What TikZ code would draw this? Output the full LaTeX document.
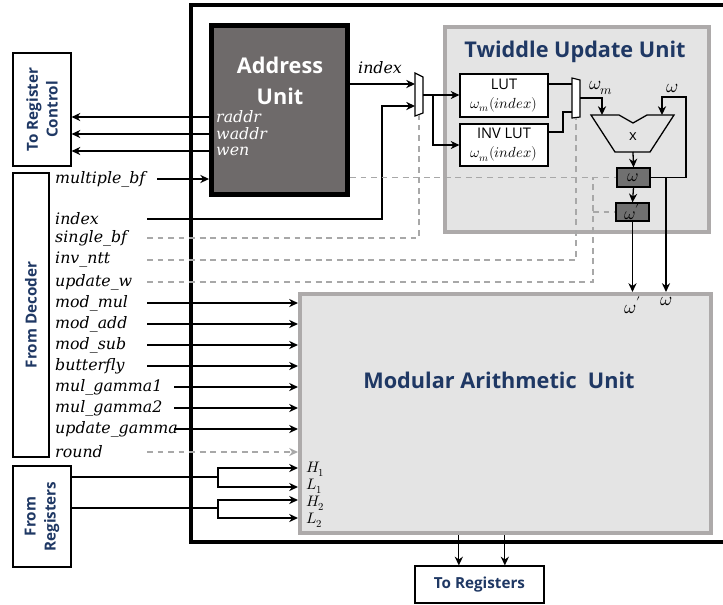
\documentclass[tikz,border=0pt]{standalone}
\usepackage{amsmath}
\usepackage{fontspec}
\usepackage{unicode-math}
\setmathfont{Latin Modern Math}
\newfontfamily\headfont{Open Sans}
\newfontfamily\sigfont{DejaVu Serif}
\usepackage{tikz}
\usetikzlibrary{arrows.meta}
\definecolor{navy}{HTML}{1F3864}
\definecolor{addrgray}{HTML}{6E6A6A}
\definecolor{reggray}{HTML}{707070}
\definecolor{panelfill}{HTML}{E4E4E4}
\definecolor{panelline}{HTML}{ADAAAA}
\definecolor{dashgray}{HTML}{A8A8A8}

\begin{document}
\begin{tikzpicture}[x=0.03cm, y=-0.03cm,
    wire/.style={line width=1.1pt},
    arr/.style={wire, -{Stealth[length=7.5pt,width=7pt]}},
    ctrl/.style={draw=dashgray, line width=1.1pt, dash pattern=on 5pt off 4pt},
    sig/.style={font=\sigfont\itshape\fontsize{13.5}{15}\selectfont, inner sep=0pt, anchor=west},
    iobox/.style={draw, line width=1pt, fill=white},
    iotext/.style={font=\headfont\bfseries\fontsize{13}{17}\selectfont, text=navy, align=center},
    panel/.style={draw=panelline, fill=panelfill, line width=3.5pt},
    unitname/.style={font=\headfont\bfseries\fontsize{18.5}{26}\selectfont, text=navy, align=center},
    lutbox/.style={draw, fill=white, line width=1pt, minimum width=2.64cm, align=center, inner sep=1pt, font=\fontsize{12.5}{16}\selectfont},
    reg/.style={draw, line width=1pt, fill=reggray, minimum width=0.99cm, inner sep=0pt, font=\fontsize{15}{16}\selectfont},
    mux/.style={draw, fill=white, line width=1pt},
    mlab/.style={font=\fontsize{16}{17}\selectfont, inner sep=1pt},
    plab/.style={font=\fontsize{13}{14}\selectfont, inner sep=0pt, anchor=west}]
\useasboundingbox (0,0) rectangle (723,604);

% units
\node[panel, minimum width=7.92cm, minimum height=6.15cm] (twiddle) at (577,129.5) {};
\node[panel, minimum width=12.33cm, minimum height=7.17cm] (mau) at (505.5,413.5) {};
\draw[line width=4.2pt] (723,5) -| (191,542) -- (723,542);
\node[draw, line width=4.2pt, fill=addrgray, minimum width=4.08cm, minimum height=5.07cm] (addr) at (279.5,110) {};
\node[unitname, text=white] (addrname) at (280,81) {Address\\Unit};
\node[unitname] (twname) at (575,52) {Twiddle Update Unit};
\node[unitname] (mauname) at (499,380) {Modular Arithmetic\ \ Unit};

% outside boxes
\node[iobox, minimum width=1.74cm, minimum height=3.39cm] (regctl) at (42,109.5) {};
\node[iotext, rotate=90] at (regctl) {To Register\\Control};
\node[iobox, minimum width=1.08cm, minimum height=8.52cm] (dec) at (31,315) {};
\node[iotext, rotate=90] at (dec) {From Decoder};
\node[iobox, minimum width=1.74cm, minimum height=3.03cm] (fromreg) at (42,516.5) {};
\node[iotext, rotate=90] at (fromreg) {From\\Registers};
\node[iobox, minimum width=3.87cm, minimum height=1.11cm, iotext] (toreg) at (479.5,584.5) {To Registers};

% decoder signals
\node[sig] (lmbf) at (55,179) {multiple\_bf};
\node[sig] (lindex) at (55,219) {index};
\node[sig] (lsbf) at (55,238) {single\_bf};
\node[sig] (linv) at (55,260) {inv\_ntt};
\node[sig] (lupd) at (55,282) {update\_w};
\node[sig] (lmul) at (55,303) {mod\_mul};
\node[sig] (ladd) at (55,324) {mod\_add};
\node[sig] (lsub) at (55,345) {mod\_sub};
\node[sig] (lbf) at (55,366) {butterfly};
\node[sig] (lg1) at (55,387) {mul\_gamma1};
\node[sig] (lg2) at (55,408) {mul\_gamma2};
\node[sig] (lug) at (55,429) {update\_gamma};
\node[sig] (lround) at (55,452) {round};

% address unit ports
\node[sig, text=white] (lraddr) at (216,117) {raddr};
\node[sig, text=white] (lwaddr) at (216,134) {waddr};
\node[sig, text=white] (lwen) at (216,151) {wen};
\node[sig] (lidx) at (358,68) {index};

% twiddle update unit
\node[lutbox, minimum height=1.29cm] (lut) at (504,95.5) {\headfont LUT\\$\omega_m(index)$};
\node[lutbox, minimum height=1.26cm] (invlut) at (504,145) {\headfont INV LUT\\$\omega_m(index)$};
\node[reg, minimum height=0.57cm] (wreg) at (633.5,177.5) {$\omega$};
\node[reg, minimum height=0.54cm] (wpreg) at (632.5,212) {$\omega'$};
\draw[mux] (415,73) -- (423,77) -- (423,113) -- (415,116) -- cycle;
\draw[mux] (572,78) -- (580,80) -- (580,117) -- (572,118) -- cycle;
\draw[wire] (591,115) -- (619,115) -- (633,123) -- (647,115) -- (674,115) -- (650,152) -- (615,152) -- cycle;
\node[font=\headfont\fontsize{12.5}{14}\selectfont] (multx) at (633,137) {x};
\node[mlab] (lwm) at (601,88) {$\omega_m$};
\node[mlab] (lwfb) at (672,88) {$\omega$};

\coordinate (m1a) at (415,84);
\coordinate (m1b) at (415,106);
\coordinate (m1out) at (423,95);
\coordinate (m1sel) at (419,115);
\coordinate (br) at (433,95);
\coordinate (ixup) at (382,106);
\coordinate (m2a) at (572,84);
\coordinate (m2b) at (572,112);
\coordinate (m2bk) at (563,112);
\coordinate (m2out) at (580,98);
\coordinate (m2sel) at (576,118);
\coordinate (mwm) at (602,115);
\coordinate (mw) at (662,115);
\coordinate (mo) at (633,152);
\coordinate (wfb) at (686,97);
\coordinate (wtap) at (666,0);
\coordinate (ucol) at (593,0);
\coordinate (srcA) at (147,0);
\coordinate (srcB) at (174,0);
\coordinate (srcM) at (157,0);
\coordinate (j1) at (218,477);
\coordinate (j2) at (218,508);

% address unit connections
\draw[arr] (addr.west |- lraddr) -- (regctl.east |- lraddr);
\draw[arr] (addr.west |- lwaddr) -- (regctl.east |- lwaddr);
\draw[arr] (addr.west |- lwen) -- (regctl.east |- lwen);
\draw[arr] (srcM |- lmbf) -- (addr.west |- lmbf);
\draw[arr] (addr.east |- m1a) -- (m1a);
\draw[arr] (srcA |- lindex) -| (ixup) -- (m1b);
\draw[arr] (m1out) -- (lut.west |- m1out);
\draw[arr] (br) |- (invlut.west);
\draw[wire] (lut.east |- m2a) -- (m2a);
\draw[wire] ([yshift=0.39cm]invlut.east) -| (m2bk) -- (m2b);
\draw[arr] (m2out) -| (mwm);
\draw[arr] (wreg.east) -| (wfb) -| (mw);
\draw[arr] (mo) -- (wreg.north);
\draw[arr] (wreg.south) -- (wpreg.north);
\draw[arr] (wpreg.south) -- (wpreg.south |- mau.north);
\draw[arr] (wtap |- wreg) -- (wtap |- mau.north);
\node[mlab, anchor=north] (lwp) at ([yshift=-3pt]wpreg.south |- mau.north) {$\omega'$};
\node[mlab, anchor=north] (lwo) at ([yshift=-3pt]wtap |- mau.north) {$\omega$};

% control signals
\draw[ctrl] (addr.east |- wreg) -- (wreg.west);
\draw[ctrl] (srcA |- lsbf) -| (m1sel);
\draw[ctrl] (srcA |- linv) -| (m2sel);
\draw[ctrl] (srcA |- lupd) -| (ucol |- wreg);
\draw[ctrl] (ucol |- wpreg) -- (wpreg.west);
\draw[ctrl, -{Stealth[length=7.5pt,width=7pt]}] (srcA |- lround) -- (mau.west |- lround);

% modular arithmetic inputs
\draw[arr] (srcA |- lmul) -- (mau.west |- lmul);
\draw[arr] (srcA |- ladd) -- (mau.west |- ladd);
\draw[arr] (srcA |- lsub) -- (mau.west |- lsub);
\draw[arr] (srcA |- lbf) -- (mau.west |- lbf);
\draw[arr] (srcB |- lg1) -- (mau.west |- lg1);
\draw[arr] (srcB |- lg2) -- (mau.west |- lg2);
\draw[arr] (srcB |- lug) -- (mau.west |- lug);

\node[plab] (lh1) at (306,469) {$H_1$};
\node[plab] (ll1) at (306,486) {$L_1$};
\node[plab] (lh2) at (306,503) {$H_2$};
\node[plab] (ll2) at (306,520) {$L_2$};
\draw[wire] (fromreg.east |- j1) -- (j1);
\draw[wire] (fromreg.east |- j2) -- (j2);
\draw[arr] (j1) |- (mau.west |- 0,468);
\draw[arr] (j1) |- (mau.west |- 0,487);
\draw[arr] (j2) |- (mau.west |- 0,500);
\draw[arr] (j2) |- (mau.west |- 0,518);

% outputs
\draw[arr] ([xshift=-0.62cm]toreg.north |- mau.south) -- ([xshift=-0.62cm]toreg.north);
\draw[arr] ([xshift=0.76cm]toreg.north |- mau.south) -- ([xshift=0.76cm]toreg.north);
\end{tikzpicture}
\end{document}
